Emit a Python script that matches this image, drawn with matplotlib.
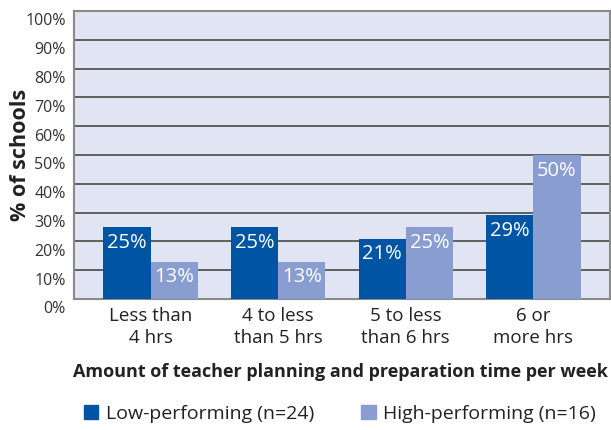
import matplotlib
matplotlib.use("Agg")
import matplotlib.pyplot as plt
import matplotlib.transforms as mtransforms
from matplotlib.patches import Patch
import numpy as np

categories = ["Less than\n4 hrs", "4 to less\nthan 5 hrs", "5 to less\nthan 6 hrs", "6 or\nmore hrs"]
low_perf = [25, 25, 21, 29]
high_perf = [13, 13, 25, 50]
series_names = ["Low-performing (n=24)", "High-performing (n=16)"]
yticks = list(range(0, 101, 10))

plt.rcParams['font.family'] = ['Open Sans', 'DejaVu Sans']

dark = "#0054A4"
light = "#8A9DD0"
bg = "#E1E4F3"

fig = plt.figure(figsize=(6.11, 4.30), dpi=100)
ax = fig.add_axes([74/611, 131/430, 536/611, 288/430])
ax.set_facecolor(bg)

x = np.arange(len(categories))
w = 0.37
b1 = ax.bar(x - w/2, low_perf, w, color=dark, zorder=3)
b2 = ax.bar(x + w/2, high_perf, w, color=light, zorder=3)

for bars, vals in ((b1, low_perf), (b2, high_perf)):
    for r, v in zip(bars, vals):
        ax.annotate(f"{v}%", (r.get_x() + r.get_width()/2, v), xytext=(0, -4),
                    textcoords="offset points", ha="center", va="top",
                    color="white", fontsize=14.5, zorder=4)

ax.set_xlim(-0.6, 3.6)
ax.set_ylim(0, 100)
ax.set_yticks(yticks)
ax.set_yticklabels([f"{t}%" for t in yticks])
ax.yaxis.grid(True, color="#4a4a4a", linewidth=1.2, zorder=1)
ax.set_axisbelow(True)
ax.tick_params(axis="y", length=0, labelsize=11.5, labelcolor="#333333", pad=6)
ax.tick_params(axis="x", length=0, labelsize=13.5, labelcolor="#222222", pad=6)
offset = mtransforms.ScaledTranslation(0, -6/72, fig.dpi_scale_trans)
for lab in ax.get_yticklabels():
    lab.set_transform(lab.get_transform() + offset)
ax.set_xticks(x)
ax.set_xticklabels(categories, linespacing=1.25)

for s in ax.spines.values():
    s.set_color("#8a8a8a")
    s.set_linewidth(1.5)

ax.set_ylabel("% of schools", fontsize=15.5, fontweight="bold", color="#222222")
ax.yaxis.set_label_coords(-43/536, 0.5)
ax.set_xlabel("Amount of teacher planning and preparation time per week",
              fontsize=13, fontweight="bold", color="#222222")
ax.xaxis.set_label_coords((340 - 74)/536, -(372 - 299)/288)
ax.xaxis.label.set_va("center")

handles = [Patch(color=dark), Patch(color=light)]
fig.legend(handles, series_names, loc="center", bbox_to_anchor=(340/611, 1 - 414/430),
           ncol=2, frameon=False, fontsize=14, handlelength=0.75, handleheight=0.75,
           handletextpad=0.4, columnspacing=2.4, labelcolor="#222222")

fig.savefig("out.png", dpi=100)
